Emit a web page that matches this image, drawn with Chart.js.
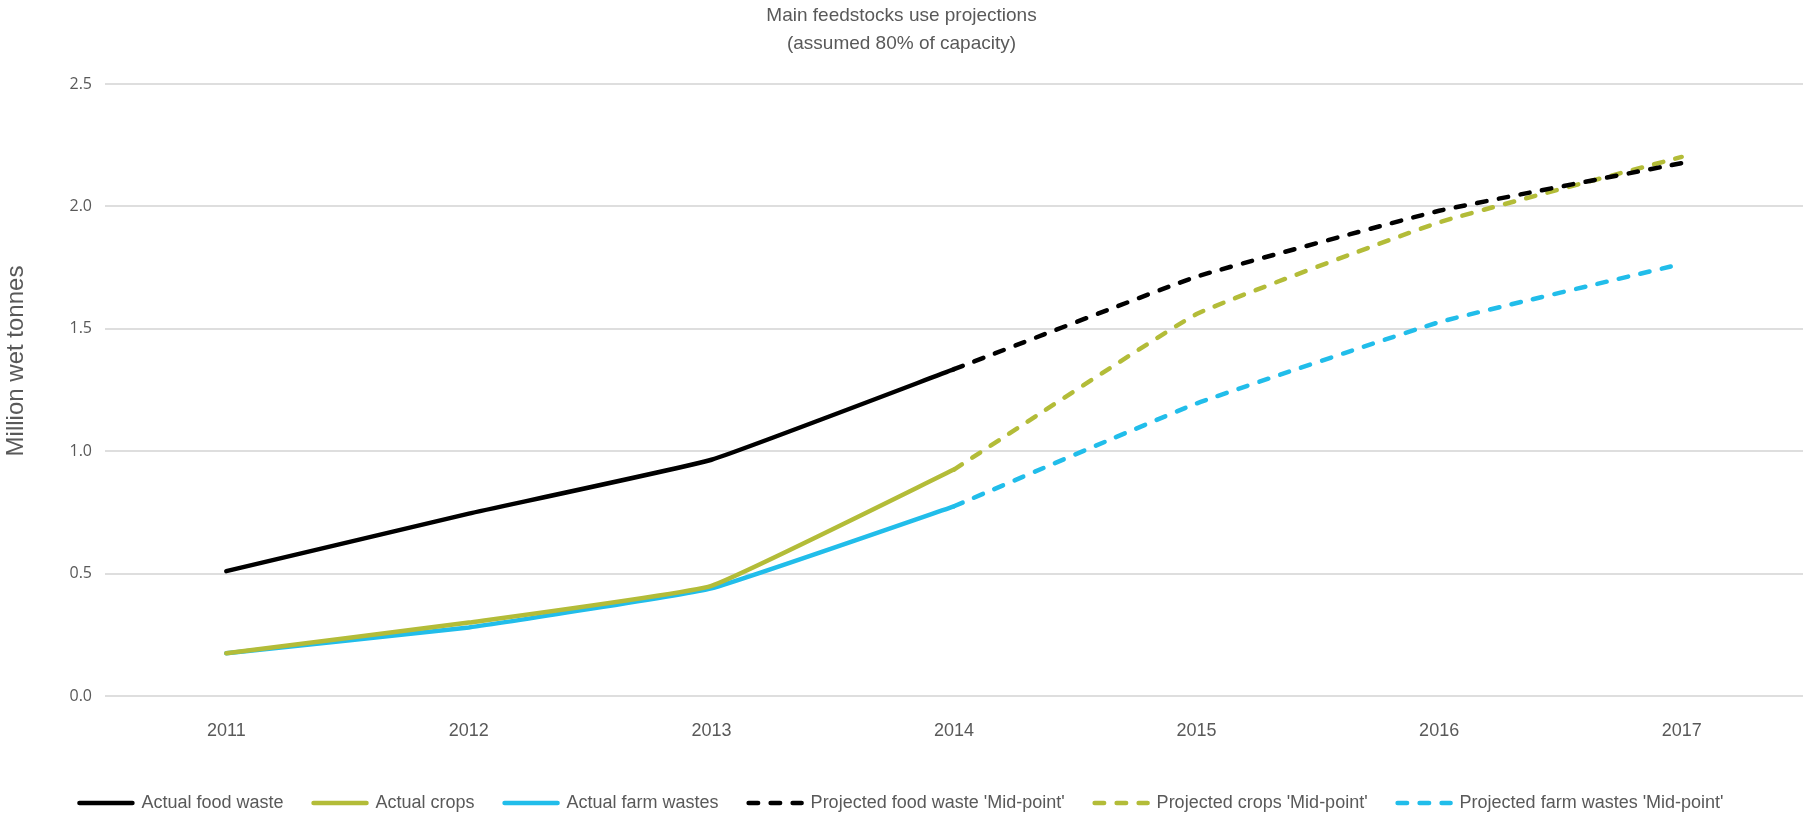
<!DOCTYPE html>
<html>
<head>
<meta charset="utf-8">
<script src="https://cdn.jsdelivr.net/npm/chart.js@4.4.1/dist/chart.umd.min.js"></script>
<style>
  html, body { margin: 0; padding: 0; background: #ffffff; }
  #wrap { width: 1807px; height: 814px; }
</style>
</head>
<body>
<div id="wrap"><canvas id="chart" width="1807" height="814"></canvas></div>
<script>
// Years on the horizontal axis
const years = ['2011', '2012', '2013', '2014', '2015', '2016', '2017'];

// Actual use (million wet tonnes)
const actualFoodWaste  = [0.51, 0.745, 0.965, 1.335, null, null, null];
const actualCrops      = [0.175, 0.30, 0.45, 0.925, null, null, null];
const actualFarmWastes = [0.175, 0.28, 0.44, 0.775, null, null, null];

// Projections, 'Mid-point' scenario (continue from the 2014 actuals)
const projFoodWaste  = [null, null, null, 1.335, 1.713, 1.982, 2.177];
const projCrops      = [null, null, null, 0.925, 1.56, 1.935, 2.202];
const projFarmWastes = [null, null, null, 0.775, 1.195, 1.527, 1.765];

// Value axis ticks
const yTicks = [0, 0.5, 1.0, 1.5, 2.0, 2.5];
const yAxisTitle = 'Million wet tonnes';

const BLACK = '#000000';
const OLIVE = '#b3bc38';
const CYAN  = '#21bdea';
const TEXT  = '#595959';
const SANS = "'Liberation Sans', Arial, sans-serif";
const DASH = [9.5, 12.5];
const LINE_W = 4.5;

function series(label, data, color, dashed) {
  return {
    label: label,
    data: data,
    borderColor: color,
    backgroundColor: color,
    borderWidth: LINE_W,
    borderDash: dashed ? DASH : [],
    borderCapStyle: 'round',
    borderJoinStyle: 'round',
    pointRadius: 0,
    pointHoverRadius: 0,
    pointStyle: 'line',
    tension: 0.1,
    fill: false,
    spanGaps: false
  };
}

// Rotated value-axis title, placed beside the plot
const axisTitlePlugin = {
  id: 'axisTitle',
  afterDraw(chart) {
    const ctx = chart.ctx;
    ctx.save();
    ctx.translate(16, 361);
    ctx.rotate(-Math.PI / 2);
    ctx.fillStyle = TEXT;
    ctx.font = '24px ' + SANS;
    ctx.textAlign = 'center';
    ctx.textBaseline = 'middle';
    ctx.fillText(yAxisTitle, 0, 0);
    ctx.restore();
  }
};

new Chart(document.getElementById('chart'), {
  type: 'line',
  data: {
    labels: years,
    datasets: [
      series('Actual food waste', actualFoodWaste, BLACK, false),
      series('Actual crops', actualCrops, OLIVE, false),
      series('Actual farm wastes', actualFarmWastes, CYAN, false),
      series("Projected food waste 'Mid-point'", projFoodWaste, BLACK, true),
      series("Projected crops 'Mid-point'", projCrops, OLIVE, true),
      series("Projected farm wastes 'Mid-point'", projFarmWastes, CYAN, true)
    ]
  },
  plugins: [axisTitlePlugin],
  options: {
    responsive: false,
    animation: false,
    devicePixelRatio: 1,
    layout: { padding: { left: 0, right: 4, top: 0, bottom: -8 } },
    plugins: {
      tooltip: { enabled: false },
      title: {
        display: true,
        text: ['Main feedstocks use projections', '(assumed 80% of capacity)'],
        color: TEXT,
        font: { family: SANS, size: 19, weight: 'normal', lineHeight: 28 / 19 },
        padding: { top: 2, bottom: 26 }
      },
      legend: {
        position: 'bottom',
        align: 'center',
        labels: {
          usePointStyle: true,
          pointStyleWidth: 53,
          boxHeight: 18,
          padding: 30,
          color: TEXT,
          font: { family: SANS, size: 18 },
          generateLabels(chart) {
            return chart.data.datasets.map((ds, i) => ({
              text: ds.label,
              datasetIndex: i,
              fillStyle: ds.borderColor,
              strokeStyle: ds.borderColor,
              fontColor: TEXT,
              lineWidth: ds.borderWidth,
              lineDash: ds.borderDash,
              lineCap: 'round',
              lineJoin: 'round',
              pointStyle: 'line',
              hidden: !chart.isDatasetVisible(i)
            }));
          }
        }
      }
    },
    scales: {
      x: {
        offset: true,
        grid: { display: false, drawTicks: false },
        border: { display: false },
        ticks: {
          color: TEXT,
          padding: 24,
          font: { family: SANS, size: 18 },
          maxRotation: 0
        },
        afterFit: (scale) => { scale.height = 68; }
      },
      y: {
        min: 0,
        max: 2.5,
        afterBuildTicks: (scale) => { scale.ticks = yTicks.map(v => ({ value: v })); },
        grid: { color: '#dedede', lineWidth: 2, drawTicks: false },
        border: { display: false },
        ticks: {
          color: TEXT,
          padding: 13,
          font: { family: "'Open Sans', sans-serif", size: 16 },
          callback: (v) => Number(v).toFixed(1)
        },
        afterFit: (scale) => { scale.width = 105; }
      }
    }
  }
});
</script>
</body>
</html>
